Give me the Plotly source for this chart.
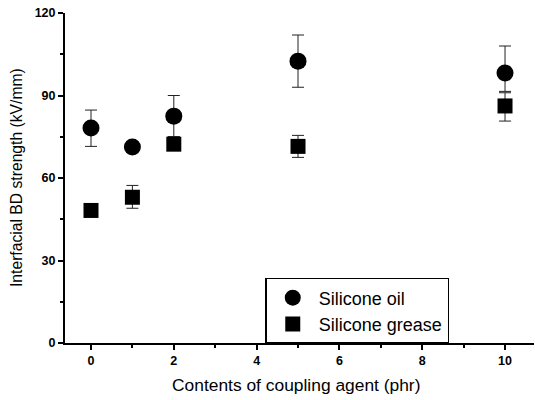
import plotly.graph_objects as go

x_vals = [0, 1, 2, 5, 10]
oil = [78.2, 71.3, 82.5, 102.5, 98.2]
oil_hi = [84.7, 72.0, 90.0, 112.0, 108.0]
oil_lo = [71.5, 70.5, 75.0, 93.0, 91.5]
grease = [48.2, 53.0, 72.3, 71.5, 86.2]
grease_hi = [49.0, 57.3, 75.0, 75.5, 91.0]
grease_lo = [47.5, 49.0, 71.5, 67.5, 80.7]

x_ticks = [0, 2, 4, 6, 8, 10]
y_ticks = [0, 30, 60, 90, 120]

def err(center, hi, lo):
    return [h - c for c, h in zip(center, hi)], [c - l for c, l in zip(center, lo)]

oil_p, oil_m = err(oil, oil_hi, oil_lo)
gr_p, gr_m = err(grease, grease_hi, grease_lo)

fig = go.Figure()
fig.add_trace(go.Scatter(
    x=x_vals, y=oil, mode="markers", name="Silicone oil",
    marker=dict(symbol="circle", size=17, color="black"),
    error_y=dict(type="data", symmetric=False, array=oil_p, arrayminus=oil_m,
                 color="#222", thickness=1, width=6),
))
fig.add_trace(go.Scatter(
    x=x_vals, y=grease, mode="markers", name="Silicone grease",
    marker=dict(symbol="square", size=15, color="black"),
    error_y=dict(type="data", symmetric=False, array=gr_p, arrayminus=gr_m,
                 color="#222", thickness=1, width=6),
))

font_fam = "Liberation Sans, Arial, sans-serif"
fig.update_layout(
    width=535, height=400,
    margin=dict(l=65, r=1, t=13, b=57),
    paper_bgcolor="white", plot_bgcolor="white",
    font=dict(family=font_fam, color="black"),
    showlegend=True,
    legend=dict(
        x=0.427, y=0.197, xanchor="left", yanchor="top",
        bordercolor="black", borderwidth=1.5, bgcolor="white",
        font=dict(size=18, family=font_fam),
        itemsizing="trace", tracegroupgap=0, itemwidth=42,
    ),
    annotations=[
        dict(text="Contents of coupling agent (phr)", xref="paper", yref="paper",
             x=0.493, y=-0.127, xanchor="center", yanchor="middle", showarrow=False,
             font=dict(size=17.4, family=font_fam)),
        dict(text="Interfacial BD strength (kV/mm)", xref="paper", yref="paper",
             x=-0.103, y=0.502, xanchor="center", yanchor="middle", showarrow=False,
             textangle=-90, font=dict(size=15.7, family=font_fam)),
    ],
)
fig.update_xaxes(
    range=[-0.628, 10.7], tickvals=x_ticks, ticktext=[str(v) for v in x_ticks],
    automargin=False,
    showgrid=False, zeroline=False, showline=True, linecolor="black", linewidth=2,
    ticks="outside", ticklen=5, tickwidth=2, tickcolor="black",
    tickfont=dict(size=12.5, family=font_fam, weight="bold"),
    minor=dict(tickvals=[1, 3, 5, 7, 9], ticks="outside", ticklen=3, tickwidth=1.5, tickcolor="black"),
)
fig.update_yaxes(
    range=[0, 120], tickvals=y_ticks, ticktext=[str(v) for v in y_ticks],
    automargin=False,
    showgrid=False, zeroline=False, showline=True, linecolor="black", linewidth=2,
    ticks="outside", ticklen=5, tickwidth=2, tickcolor="black",
    tickfont=dict(size=12.5, family=font_fam, weight="bold"),
    minor=dict(tickvals=[15, 45, 75, 105], ticks="outside", ticklen=3, tickwidth=1.5, tickcolor="black"),
)
fig.write_html("out.html", config={"displayModeBar": False},
               post_script="document.body.style.margin='0';document.body.style.overflow='hidden';")
